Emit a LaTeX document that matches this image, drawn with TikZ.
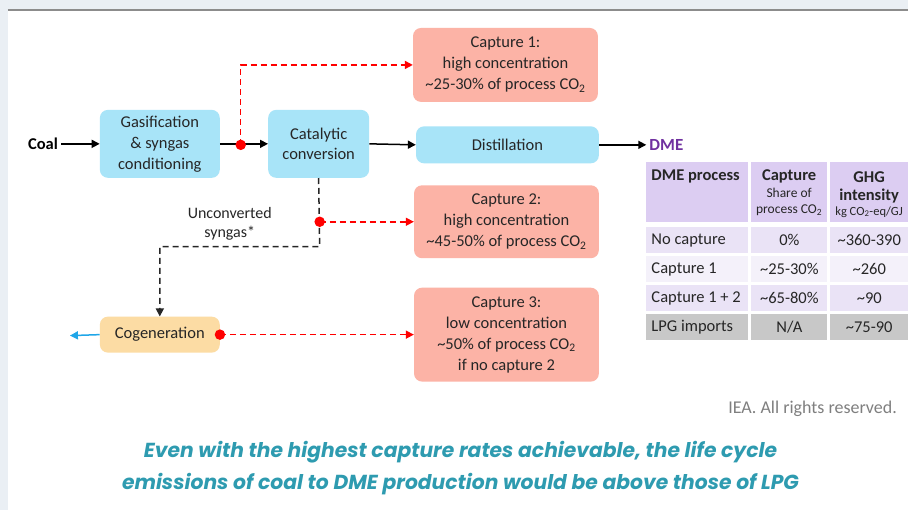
\documentclass[tikz,border=0pt]{standalone}
\usepackage{fontspec}
\setmainfont{Carlito}
\newfontfamily\captfont{Poppins}
\usetikzlibrary{arrows.meta}
\definecolor{bgc}{HTML}{EAEFF4}
\definecolor{boxblue}{HTML}{A8E4F8}
\definecolor{boxred}{HTML}{FCB3A6}
\definecolor{boxorange}{HTML}{FCDCA4}
\definecolor{dmepurple}{HTML}{7030A0}
\definecolor{hdr}{HTML}{DCCDF2}
\definecolor{rowa}{HTML}{EAE3F6}
\definecolor{rowb}{HTML}{F4F1FA}
\definecolor{rowgray}{HTML}{C8C8C8}
\definecolor{capteal}{HTML}{2E9BB0}
\definecolor{redline}{HTML}{FF0000}
\definecolor{bluearrow}{HTML}{1FA6E8}
\definecolor{txt}{HTML}{262626}
\definecolor{credgray}{HTML}{7F7F7F}
\begin{document}
\begin{tikzpicture}[x=1pt,y=-1pt,
  proc/.style={rounded corners=8pt, align=center, font=\fontsize{16.5}{21}\selectfont, text=txt, inner sep=0pt},
  bluebox/.style={proc, fill=boxblue},
  redbox/.style={proc, fill=boxred, minimum width=185pt},
  orangebox/.style={proc, fill=boxorange},
  flow/.style={line width=1.5pt, -{Triangle[length=8pt,width=8pt]}},
  redflow/.style={flow, draw=redline, dash pattern=on 6pt off 4pt},
  blackdash/.style={flow, draw=txt, dash pattern=on 6pt off 4pt},
  reddot/.style={circle, fill=redline, inner sep=0pt, minimum size=10.5pt},
  cellbox/.style={anchor=north west, inner sep=0pt, font=\fontsize{16.5}{19}\selectfont, text=txt},
  hdrtxt/.style={inner sep=0pt, text=txt},
  hbig/.style={hdrtxt, font=\fontsize{16.5}{19}\selectfont\bfseries},
  hsmall/.style={hdrtxt, font=\fontsize{13.5}{16}\selectfont},
  boldlabel/.style={font=\fontsize{16.5}{19}\selectfont\bfseries, inner sep=1pt}
]
\fill[bgc] (0,0) rectangle (909,511);
\fill[white] (8,10) rectangle (909,511);
\draw[gray!90, line width=2pt] (8,10) -- (909,10);
\useasboundingbox (0,0) rectangle (909,511);

% process nodes
\node[boldlabel, text=black] (coal) at (43,144) {Coal};
\node[bluebox, minimum width=120pt, minimum height=68pt] (gas) at (160,144) {Gasification\\\& syngas\\conditioning};
\node[bluebox, minimum width=101pt, minimum height=68pt] (cat) at (319,144) {Catalytic\\conversion};
\node[bluebox, minimum width=183pt, minimum height=37pt] (dist) at (508,145) {Distillation};
\node[boldlabel, font=\fontsize{17}{19}\selectfont\bfseries, text=dmepurple, anchor=west] (dme) at (649,145) {DME};
\node[redbox, minimum height=74pt] (cap1) at (506,65) {Capture 1:\\high concentration\\\textasciitilde 25-30\% of process CO\textsubscript{2}};
\node[redbox, minimum height=73pt] (cap2) at (507,222) {Capture 2:\\high concentration\\\textasciitilde 45-50\% of process CO\textsubscript{2}};
\node[redbox, minimum height=94pt] (cap3) at (507,335) {Capture 3:\\low concentration\\\textasciitilde 50\% of process CO\textsubscript{2}\\if no capture 2};
\node[orangebox, minimum width=120pt, minimum height=36pt] (cogen) at (160,335) {Cogeneration};
\node[align=center, font=\fontsize{16}{19}\selectfont, text=txt, inner sep=0pt] (unconv) at (230,224) {Unconverted\\syngas*};

% connectors
\coordinate (d1) at (241,145);
\coordinate (d2) at (320,222);
\coordinate (bend) at (320,247);
\coordinate (out) at (70,336);
\draw[flow] (coal.east) ++(2pt,0) -- (gas.west);
\draw[flow] (gas.east) -- (cat.west);
\draw[flow] (cat.east) -- (dist.west);
\draw[flow] (dist.east) -- ([xshift=-2pt]dme.west);
\draw[redflow] (d1) |- (cap1.west);
\draw[blackdash] (cat.south) -- (bend) -| (cogen.north);
\draw[redflow] (d2) -- (d2 -| cap2.west);
\draw[redflow] (cogen.east) -- (cogen.east -| cap3.west);
\draw[flow, draw=bluearrow] (cogen.west) -- (out);
\node[reddot] (dot1) at (d1) {};
\node[reddot] (dot2) at (d2) {};
\node[reddot] (dot3) at (cogen.east) {};

% table header
\node[cellbox, fill=hdr, minimum width=102pt, minimum height=60pt] (h1) at (647,162) {};
\node[cellbox, fill=hdr, minimum width=76pt, minimum height=60pt] (h2) at (752,162) {};
\node[cellbox, fill=hdr, minimum width=78pt, minimum height=60pt] (h3) at (831,162) {};
\node[hbig, anchor=west] (h1t) at (652,177) {DME process};
\node[hbig] (h2a) at (790,177) {Capture};
\node[hsmall] (h2b) at (790,193) {Share of};
\node[hsmall] (h2c) at (790,210) {process CO\textsubscript{2}};
\node[hbig] (h3a) at (870,177) {GHG};
\node[hbig] (h3b) at (870,196) {intensity};
\node[hsmall, font=\fontsize{12.5}{15}\selectfont] (h3c) at (870,212) {kg CO\textsubscript{2}-eq/GJ};

% table body
\foreach \r/\y/\c/\a/\b/\cc in {1/227/rowa/{No capture}/{0\%}/{\textasciitilde 360-390},
  2/256/rowb/{Capture 1}/{\textasciitilde 25-30\%}/{\textasciitilde 260},
  3/285/rowa/{Capture 1 + 2}/{\textasciitilde 65-80\%}/{\textasciitilde 90},
  4/314/rowgray/{LPG imports}/{N/A}/{\textasciitilde 75-90}}{
  \node[cellbox, fill=\c, minimum width=102pt, minimum height=26.5pt] (r\r a) at (647,\y) {};
  \node[cellbox, fill=\c, minimum width=76pt, minimum height=26.5pt] (r\r b) at (752,\y) {};
  \node[cellbox, fill=\c, minimum width=78pt, minimum height=26.5pt] (r\r c) at (831,\y) {};
  \node[hdrtxt, font=\fontsize{16.5}{19}\selectfont, anchor=west] (r\r at) at ([xshift=5pt]r\r a.west) {\a};
  \node[hdrtxt, font=\fontsize{16.5}{19}\selectfont] (r\r bt) at (r\r b.center) {\b};
  \node[hdrtxt, font=\fontsize{16.5}{19}\selectfont] (r\r ct) at (r\r c.center) {\cc};
}

% credits and caption
\node[anchor=east, font=\fontsize{18}{20}\selectfont, text=credgray, inner sep=0pt] (credit) at (898,409) {IEA. All rights reserved.};
\node[align=center, font=\captfont\fontsize{20.3}{32}\selectfont\bfseries\itshape, text=capteal] (caption) at (461,469) {Even with the highest capture rates achievable, the life cycle\\emissions of coal to DME production would be above those of LPG};
\end{tikzpicture}
\end{document}
